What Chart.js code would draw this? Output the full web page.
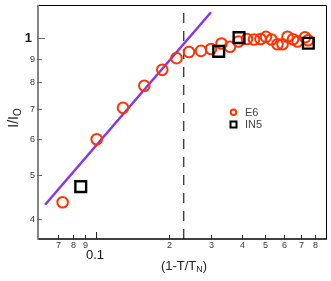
<!DOCTYPE html>
<html>
<head>
<meta charset="utf-8">
<script src="https://cdn.jsdelivr.net/npm/chart.js@4"></script>
<style>
html,body{margin:0;padding:0;background:#fff;}
#wrap{width:331px;height:281px;position:relative;}
</style>
</head>
<body>
<div id="wrap"><canvas id="c" width="331" height="281"></canvas></div>
<script>
// ---- data ----
const e6X = [0.0728,0.1007,0.1293,0.1584,0.1879,0.2151,0.2423,0.2716,0.2987,0.330,0.3579,0.388,0.4207,0.4497,0.4784,0.5041,0.5311,0.5623,0.5898,0.6185,0.6517,0.6803,0.7305,0.7516];
const e6Y = [0.435,0.599,0.703,0.786,0.852,0.904,0.933,0.938,0.947,0.974,0.958,0.984,0.996,0.994,0.996,1.007,0.994,0.970,0.970,1.008,0.995,0.984,1.005,0.990];
const in5X = [0.0865,0.3214,0.390,0.754];
const in5Y = [0.471,0.936,1.003,0.975];
const fitX = [0.0616,0.2987];
const fitY = [0.4295,1.141];
const dashX = [0.2304,0.2304];
const dashY = [0.361,1.18];
const xTickVals = [0.07,0.08,0.09,0.1,0.2,0.3,0.4,0.5,0.6,0.7,0.8];
const xTickLabels = ['7','8','9','','2','3','4','5','6','7','8'];
const yTickVals = [0.4,0.5,0.6,0.7,0.8,0.9,1];
const yTickLabels = ['4','5','6','7','8','9','1'];
const seriesNames = ['E6','IN5'];
const xTitle = '(1-T/T';
const yTitle = 'I/I';

const pts = (xs, ys) => xs.map((x, i) => ({x, y: ys[i]}));

const decor = {
  id: 'decor',
  afterDraw(chart) {
    const ctx = chart.ctx, a = chart.chartArea;
    const xs = chart.scales.x, ys = chart.scales.y;
    ctx.save();
    // frame
    ctx.strokeStyle = '#000'; ctx.lineWidth = 1;
    ctx.beginPath();
    ctx.moveTo(a.left, a.top + 0.5); ctx.lineTo(a.right - 0.5, a.top + 0.5); ctx.lineTo(a.right - 0.5, a.bottom);
    ctx.stroke();
    ctx.lineWidth = 1.5;
    ctx.beginPath(); ctx.moveTo(a.left, a.bottom); ctx.lineTo(a.right, a.bottom); ctx.stroke();
    ctx.strokeStyle = '#777'; ctx.lineWidth = 1.8;
    ctx.beginPath(); ctx.moveTo(a.left, a.top); ctx.lineTo(a.left, a.bottom + 0.7); ctx.stroke();
    // x ticks
    ctx.strokeStyle = '#222'; ctx.lineWidth = 1;
    ctx.fillStyle = '#333';
    ctx.font = '9px "Liberation Sans", Arial, sans-serif';
    ctx.textAlign = 'center'; ctx.textBaseline = 'middle';
    xTickVals.forEach((v, i) => {
      const px = Math.round(xs.getPixelForValue(v)) + 0.5;
      const len = v === 0.1 ? 7 : 4;
      ctx.beginPath(); ctx.moveTo(px, a.bottom); ctx.lineTo(px, a.bottom - len); ctx.stroke();
      if (xTickLabels[i]) ctx.fillText(xTickLabels[i], px, a.bottom + 7);
    });
    ctx.font = '13px "Liberation Sans", Arial, sans-serif';
    ctx.fillStyle = '#111';
    ctx.fillText('0.1', xs.getPixelForValue(0.1) - 1, a.bottom + 16);
    // y ticks
    ctx.strokeStyle = '#666';
    ctx.textAlign = 'right';
    yTickVals.forEach((v, i) => {
      const py = Math.round(ys.getPixelForValue(v)) + 0.5;
      const len = v === 1 ? 7 : 4;
      ctx.beginPath(); ctx.moveTo(a.left - 1, py); ctx.lineTo(a.left + len, py); ctx.stroke();
      if (v === 1) {
        ctx.font = 'bold 13px "Liberation Sans", Arial, sans-serif';
        ctx.fillStyle = '#111';
        ctx.fillText(yTickLabels[i], a.left - 6, py);
      } else {
        ctx.font = '9px "Liberation Sans", Arial, sans-serif';
        ctx.fillStyle = '#333';
        ctx.fillText(yTickLabels[i], a.left - 3, py);
      }
    });
    // x title
    ctx.fillStyle = '#222';
    ctx.font = '13px "Liberation Sans", Arial, sans-serif';
    ctx.textAlign = 'left';
    const w1 = ctx.measureText(xTitle).width;
    ctx.font = '9px "Liberation Sans", Arial, sans-serif';
    const w2 = ctx.measureText('N').width;
    ctx.font = '13px "Liberation Sans", Arial, sans-serif';
    const w3 = ctx.measureText(')').width;
    let sx = 184 - (w1 + w2 + w3) / 2;
    const ty = 266;
    ctx.fillText(xTitle, sx, ty);
    ctx.font = '9px "Liberation Sans", Arial, sans-serif';
    ctx.fillText('N', sx + w1, ty + 4);
    ctx.font = '13px "Liberation Sans", Arial, sans-serif';
    ctx.fillText(')', sx + w1 + w2, ty);
    // y title
    ctx.save();
    ctx.translate(14, 118);
    ctx.rotate(-Math.PI / 2);
    ctx.font = '14px "Liberation Sans", Arial, sans-serif';
    const yw = ctx.measureText(yTitle).width;
    ctx.font = '10px "Liberation Sans", Arial, sans-serif';
    const yw2 = ctx.measureText('O').width;
    const yx = -(yw + yw2) / 2;
    ctx.font = '14px "Liberation Sans", Arial, sans-serif';
    ctx.fillText(yTitle, yx, 0);
    ctx.font = '10px "Liberation Sans", Arial, sans-serif';
    ctx.fillText('O', yx + yw, 4);
    ctx.restore();
    // legend
    ctx.lineWidth = 2;
    ctx.strokeStyle = '#ff3300';
    ctx.beginPath(); ctx.arc(233.5, 112.3, 2.8, 0, Math.PI * 2); ctx.stroke();
    ctx.strokeStyle = '#000';
    ctx.strokeRect(230.5, 121.5, 6, 6);
    ctx.fillStyle = '#444';
    ctx.font = '11px "Liberation Sans", Arial, sans-serif';
    ctx.textBaseline = 'middle';
    ctx.fillText(seriesNames[0], 245, 112.5);
    ctx.fillText(seriesNames[1], 245, 124.5);
    ctx.restore();
  }
};

new Chart(document.getElementById('c'), {
  type: 'scatter',
  data: {
    datasets: [
      { label: 'dash', data: pts(dashX, dashY), showLine: true, borderColor: '#333', borderWidth: 1.3, borderDash: [10, 8], pointRadius: 0, order: 4 },
      { label: 'fit', data: pts(fitX, fitY), showLine: true, borderColor: '#8a33ee', borderWidth: 2.5, pointRadius: 0, order: 3 },
      { label: seriesNames[0], data: pts(e6X, e6Y), pointStyle: 'circle', pointRadius: 5.3, borderColor: '#ff3300', backgroundColor: 'rgba(255,255,255,0)', pointBorderWidth: 2, order: 2 },
      { label: seriesNames[1], data: pts(in5X, in5Y), pointStyle: 'rect', pointRadius: 7.6, borderColor: '#000', backgroundColor: 'rgba(255,255,255,0)', pointBorderWidth: 2.4, order: 1 }
    ]
  },
  options: {
    responsive: false,
    animation: false,
    layout: { autoPadding: false, padding: { left: 38, right: 4, top: 5, bottom: 42 } },
    plugins: { legend: { display: false }, tooltip: { enabled: false } },
    scales: {
      x: { type: 'logarithmic', min: 0.0576, max: 0.9005, display: false },
      y: { type: 'logarithmic', min: 0.361, max: 1.184, display: false }
    }
  },
  plugins: [decor]
});
</script>
</body>
</html>
